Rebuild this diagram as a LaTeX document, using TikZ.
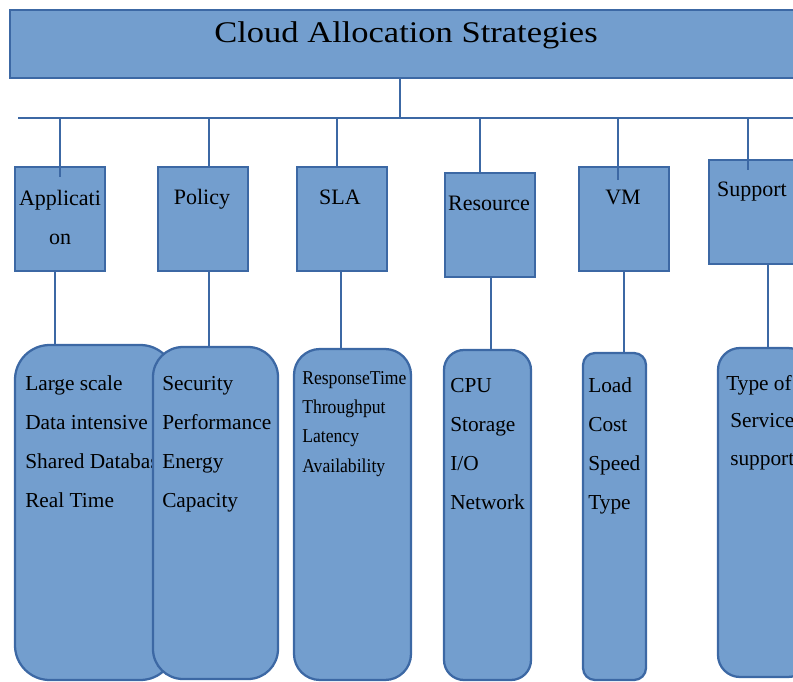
\documentclass[tikz,border=0pt]{standalone}
\usepackage{fontspec}
\setmainfont{Liberation Serif}
\newfontfamily\titlefont[FakeStretch=1.15]{Liberation Serif}
\newfontfamily\slafont[FakeStretch=0.9]{Liberation Serif}
\usepackage{tikz}
\usetikzlibrary{positioning,calc}

\definecolor{boxfill}{RGB}{115,158,206}
\definecolor{boxline}{RGB}{60,104,164}

\begin{document}
\begin{tikzpicture}[x=0.75pt,y=-0.75pt,
    headbox/.style={rectangle, draw=boxline, fill=boxfill, line width=2.2pt, inner sep=0pt, minimum width=600pt, minimum height=51pt},
    catbox/.style={rectangle, draw=boxline, fill=boxfill, line width=2.2pt, inner sep=0pt, minimum width=67.5pt, minimum height=78pt},
    listbox/.style={rectangle, draw=boxline, fill=boxfill, line width=1.7pt, inner sep=0pt},
    link/.style={draw=boxline, line width=2.1pt},
    tag/.style={anchor=base, inner sep=0pt, font=\fontsize{16.5}{20}\selectfont},
    item/.style={anchor=base west, inner sep=0pt, font=\fontsize{16}{19}\selectfont}]
        \useasboundingbox (0,0) rectangle (793,682);
        \clip (0,0) rectangle (793,682);
        % Title
        \node[headbox] (title) at (410,44) {};
        \node[anchor=base, inner sep=0pt, font=\titlefont\fontsize{22.5}{26}\selectfont] (titletext) at (406,42) {Cloud Allocation Strategies};
        \coordinate (hub) at (400,118);
        \coordinate (busW) at (18,118);
        \coordinate (busE) at (800,118);
        \draw[link] (hub |- title.south) -- (hub);
        \draw[link] (busW) -- (busE);

        % Category boxes
        \node[catbox] (app) at (60,219) {};
        \node[catbox] (pol) at (203,219) {};
        \node[catbox] (sla) at (342,219) {};
        \node[catbox] (res) at (490,225) {};
        \node[catbox] (vm) at (624,219) {};
        \node[catbox] (sup) at (754,212) {};

        \node[tag] (apptext) at (60,205) {Applicati};
        \node[tag] (apptext2) at (60,244) {on};
        \node[tag] (poltext) at (202,204) {Policy};
        \node[tag] (slatext) at (340,204) {SLA};
        \node[tag] (restext) at (489,210) {Resource};
        \node[tag] (vmtext) at (623,204) {VM};
        \node[tag] (suptext) at (752,196) {Support};

        % Drops from the bus
        \foreach \b/\x/\y in {app/60/177, pol/209/167, sla/337/167, res/480/173, vm/618/180, sup/748/170}{
            \coordinate (\b-in) at (\x,\y);
            \draw[link] (\b-in |- busW) -- (\b-in);
        }

        % Lists
        \node[listbox, minimum width=120pt, minimum height=251.25pt, rounded corners=26pt] (appl) at (95,512.5) {};
        \foreach \t [count=\i] in {Large scale, Data intensive, Shared Database, Real Time}
            \node[item] (appl\i) at (25,351+39*\i) {\t};

        \node[listbox, minimum width=93.75pt, minimum height=249pt, rounded corners=22.5pt] (poll) at (215.5,513) {};
        \foreach \t [count=\i] in {Security, Performance, Energy, Capacity}
            \node[item] (poll\i) at (162,351+39*\i) {\t};

        \node[listbox, minimum width=87.75pt, minimum height=248.25pt, rounded corners=19.5pt] (slal) at (352.5,514.5) {};
        \foreach \t [count=\i] in {ResponseTime, Throughput, Latency, Availability}
            \node[item, font=\slafont\fontsize{14.7}{17}\selectfont] (slal\i) at (302,355+29.3*\i) {\t};

        \node[listbox, minimum width=65.25pt, minimum height=247.5pt, rounded corners=15pt] (resl) at (487.5,515) {};
        \foreach \t [count=\i] in {CPU, Storage, I/O, Network}
            \node[item] (resl\i) at (450,353+39*\i) {\t};

        \node[listbox, minimum width=47.25pt, minimum height=245.25pt, rounded corners=9pt] (vml) at (614.5,516.5) {};
        \foreach \t [count=\i] in {Load, Cost, Speed, Type}
            \node[item] (vml\i) at (588,353+39*\i) {\t};

        \node[listbox, minimum width=69pt, minimum height=246.75pt, rounded corners=16.5pt] (supl) at (764,512.5) {};
        \node[item] (supl1) at (726,390) {Type of};
        \node[item] (supl2) at (730,427.5) {Service};
        \node[item] (supl3) at (730,465) {support};

        % Links to the lists
        \foreach \b/\x in {app/55, pol/209, sla/341, res/491, vm/624, sup/768}{
            \coordinate (\b-out) at (\x,300);
            \draw[link] (\b-out |- \b.south) -- (\b-out |- \b l.north);
        }
\end{tikzpicture}
\end{document}
